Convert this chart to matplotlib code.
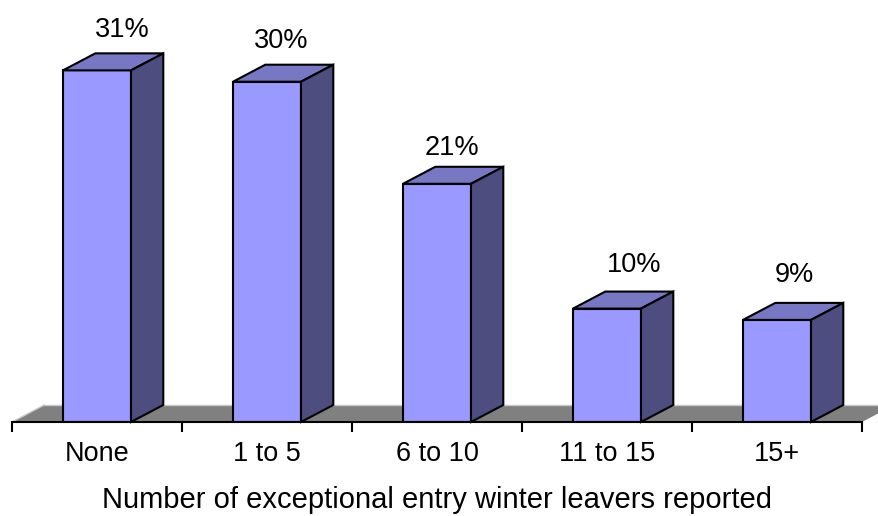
import matplotlib.pyplot as plt
from matplotlib.patches import Polygon

plt.rcParams['font.family'] = ['Liberation Sans', 'DejaVu Sans']

categories = ['None', '1 to 5', '6 to 10', '11 to 15', '15+']
values = [31, 30, 21, 10, 9]
xlabel = 'Number of exceptional entry winter leavers reported'

# label nudges in pixels (label sits above the back edge of the bar top)
lab_dx = [25, 14.5, 15, 27, 17.5]
lab_dy = [16, 17, 12, 20, 21]

front = '#9999ff'
top_c = '#7777c4'
side_c = '#4d4d80'

fig = plt.figure(figsize=(8.79, 5.16), dpi=100)
ax = fig.add_axes([12 / 879, (516 - 422) / 516, 850 / 879, 397 / 516])
ax.set_xlim(-0.5, 4.5)
ax.set_ylim(0, 35)

w = 0.4
dx = 0.19   # depth of the fake 3d
dy = 1.5

# floor
floor = Polygon([(-0.5, 0), (4.5, 0), (4.5 + dx, dy), (-0.5 + dx, dy)],
                closed=True, facecolor='#808080', edgecolor='none', clip_on=False, zorder=1)
ax.add_patch(floor)
ax.plot([-0.5 + dx, 4.5 + dx], [dy, dy], color='#c8c8c8', lw=1, clip_on=False, zorder=1.5)
ax.plot([-0.5, -0.5 + dx], [0, dy], color='#c8c8c8', lw=1, clip_on=False, zorder=1.5)

for i, v in enumerate(values):
    x0, x1 = i - w / 2, i + w / 2
    ax.bar(i, v, width=w, color=front, edgecolor='black', linewidth=1.5, zorder=3)
    top = Polygon([(x0, v), (x1, v), (x1 + dx, v + dy), (x0 + dx, v + dy)],
                  closed=True, facecolor=top_c, edgecolor='black', linewidth=1.5, zorder=3, clip_on=False)
    side = Polygon([(x1, 0), (x1 + dx, dy), (x1 + dx, v + dy), (x1, v)],
                   closed=True, facecolor=side_c, edgecolor='black', linewidth=1.5, zorder=3, clip_on=False)
    ax.add_patch(top)
    ax.add_patch(side)
    ax.annotate(f'{v}%', xy=(i, v + dy), xytext=(lab_dx[i], lab_dy[i]),
                textcoords='offset pixels', ha='center', va='baseline', fontsize=19.5)

for s in ['top', 'right', 'left']:
    ax.spines[s].set_visible(False)
ax.spines['bottom'].set_zorder(4)
ax.spines['bottom'].set_linewidth(1.5)
ax.set_yticks([])

ax.set_xticks([i - 0.5 for i in range(6)])
ax.set_xticklabels([])
ax.tick_params(axis='x', which='major', length=7, width=1.5)
ax.set_xticks(range(5), minor=True)
ax.set_xticklabels(categories, minor=True, fontsize=19.5)
ax.tick_params(axis='x', which='minor', length=0, pad=14)
ax.set_xlabel(xlabel, fontsize=21, labelpad=13)

fig.savefig('out.png', dpi=100)
